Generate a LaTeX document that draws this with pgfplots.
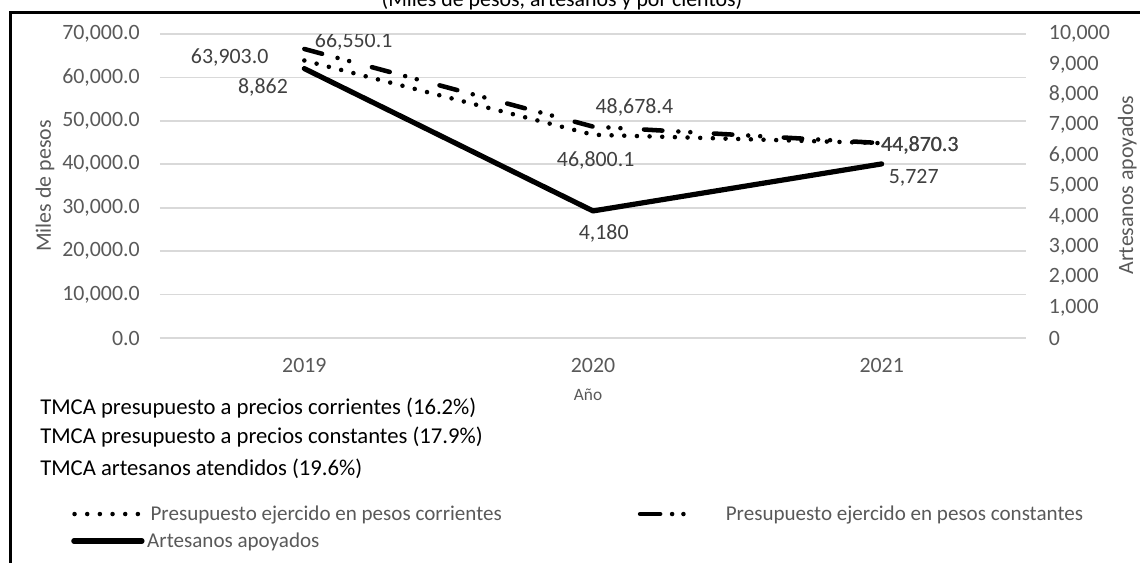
\documentclass[border=0pt]{standalone}
\usepackage{pgfplots}
\pgfplotsset{compat=1.18}
\usepackage{fontspec}
\setmainfont{Carlito}
\definecolor{gridc}{HTML}{D9D9D9}
\definecolor{tickc}{HTML}{595959}
\definecolor{lblc}{HTML}{404040}
\newcommand\fs{\fontsize{16.4}{19}\selectfont}
\newcommand\fsl{\fontsize{15.8}{18}\selectfont}
\newcommand\fst{\fontsize{17}{20}\selectfont}
\tikzset{
  corr/.style={black, line width=3.4pt, line cap=round, dash pattern=on 0pt off 9.5pt},
  const/.style={black, line width=3.4pt, line cap=round, dash pattern=on 13.8pt off 12pt on 0pt off 9pt on 0pt off 17.7pt},
  arte/.style={black, line width=3.9pt, line join=round, line cap=round},
}
\begin{document}
\begin{tikzpicture}
\pgfplotsset{
  base/.style={
    at={(120pt,-253.5pt)}, anchor=south west,
    width=649.5pt, height=228pt, scale only axis,
    xmin=-0.5, xmax=2.5,
    axis line style={draw=none}, tick style={draw=none},
    /pgf/number format/assume math mode=true,
    tick label style={font=\fs, text=tickc},
    scaled y ticks=false,
  },
}
% ---------- left axis: miles de pesos ----------
\begin{axis}[base,
  ymin=0, ymax=70000, ytick={0,10000,...,70000},
  ymajorgrids, major grid style={gridc, line width=1.3pt},
  xtick={0,1,2}, xticklabels={2019,2020,2021},
  xticklabel style={inner sep=0pt, yshift=-15pt},
  yticklabel style={inner sep=0pt, xshift=-15pt,
    /pgf/number format/.cd, fixed, fixed zerofill, precision=1, 1000 sep={,}},
  legend columns=2,
  legend cell align=left,
  legend style={at={(axis description cs:-0.1016,-0.579)}, anchor=west,
    draw=none, fill=none, inner sep=0pt, font=\fsl, text=tickc,
    nodes={inner sep=2pt},
    /tikz/every even column/.append style={column sep=100pt}},
]
\addplot[corr, legend image code/.code={\draw[corr] (1.7pt,0pt) -- (55pt,0pt);}]
  coordinates {(0,63903.0) (1,46800.1) (2,44870.3)};
\addlegendentry{Presupuesto ejercido en pesos corrientes}
\addplot[const, legend image code/.code={%
    \draw[black, line width=3.4pt, line cap=round, dash pattern=on 15pt off 9pt on 0pt off 8.5pt on 0pt off 100pt] (1.7pt,0pt) -- (40pt,0pt);
    \path[draw=none] (0pt,0pt) -- (64pt,0pt);}]
  coordinates {(0,66550.1) (1,48678.4) (2,44870.3)};
\addlegendentry{Presupuesto ejercido en pesos constantes}
\node[font=\fs, text=lblc, xshift=-56pt, yshift=2.6pt] at (axis cs:0,63903.0) {63,903.0};
\node[font=\fs, text=lblc, xshift=37pt, yshift=5.6pt] at (axis cs:0,66550.1) {66,550.1};
\node[font=\fs, text=lblc, xshift=31pt, yshift=14.7pt] at (axis cs:1,48678.4) {48,678.4};
\node[font=\fs, text=lblc, xshift=2pt, yshift=-19.6pt] at (axis cs:1,46800.1) {46,800.1};
\node[font=\fs, text=lblc, xshift=28.5pt, yshift=-1.5pt] at (axis cs:2,44870.3) {44,870.3};
\node[font=\fs, text=lblc, xshift=28.8pt, yshift=-1.5pt] at (axis cs:2,44870.3) {44,870.3};
\end{axis}
% ---------- right axis: artesanos ----------
\begin{axis}[base,
  ymin=0, ymax=10000, ytick={0,1000,...,10000},
  axis y line*=right,
  xtick=\empty,
  yticklabel style={inner sep=0pt, xshift=17pt, anchor=west,
    /pgf/number format/.cd, fixed, precision=0, 1000 sep={,}},
  legend style={at={(axis description cs:-0.1028,-0.668)}, anchor=west,
    draw=none, fill=none, inner sep=0pt, font=\fsl, text=tickc,
    nodes={inner sep=2pt}},
  legend cell align=left,
]
\addplot[arte, legend image code/.code={\draw[arte] (1.9pt,0pt) -- (53pt,0pt);}]
  coordinates {(0,8862) (1,4180) (2,5727)};
\addlegendentry{Artesanos apoyados}
\node[font=\fs, text=lblc, xshift=-31pt, yshift=-13.8pt] at (axis cs:0,8862) {8,862};
\node[font=\fs, text=lblc, xshift=8pt, yshift=-16.5pt] at (axis cs:1,4180) {4,180};
\node[font=\fs, text=lblc, xshift=24pt, yshift=-10.5pt] at (axis cs:2,5727) {5,727};
\end{axis}
% ---------- texts outside the plot ----------
\node[anchor=base, font=\fs] at (421.5pt,-4.5pt) {(Miles de pesos, artesanos y por cientos)};
\node[rotate=90, font=\fs, text=tickc] at (33.75pt,-139.5pt) {Miles de pesos};
\node[rotate=90, font=\fs, text=tickc] at (845.5pt,-138.75pt) {Artesanos apoyados};
\node[font=\fontsize{13}{15}\selectfont, text=tickc] at (441pt,-296.25pt) {Año};
\node[anchor=west, font=\fst, inner sep=0pt] at (30pt,-306pt) {TMCA presupuesto a precios corrientes (16.2\%)};
\node[anchor=west, font=\fst, inner sep=0pt] at (30pt,-327.75pt) {TMCA presupuesto a precios constantes (17.9\%)};
\node[anchor=west, font=\fst, inner sep=0pt] at (30pt,-351.75pt) {TMCA artesanos atendidos (19.6\%)};
% chart-area border (cut by the crop)
\draw[line width=2.2pt] (7.9pt,-425pt) -- (7.9pt,-9.4pt) -- (860pt,-9.4pt);
\pgfresetboundingbox
\useasboundingbox (0pt,0pt) rectangle (855pt,-421.5pt);
\end{tikzpicture}
\end{document}
